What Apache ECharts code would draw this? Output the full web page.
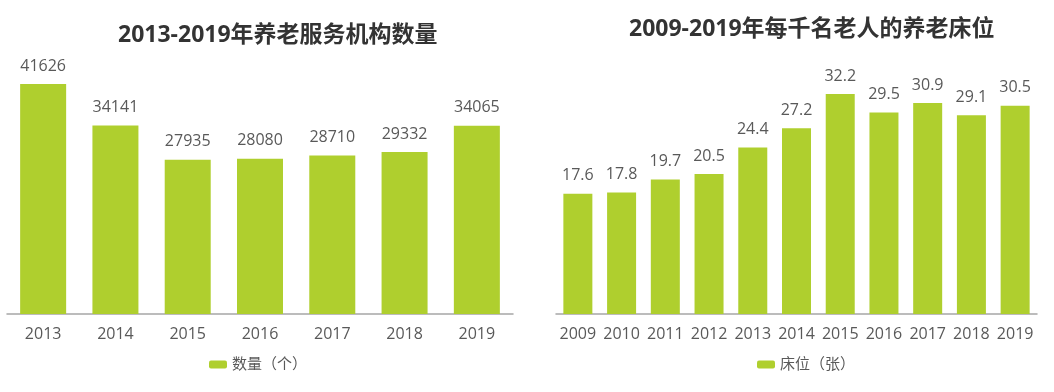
<!DOCTYPE html>
<html>
<head>
<meta charset="utf-8">
<script src="https://cdn.jsdelivr.net/npm/echarts@6/dist/echarts.min.js"></script>
<style>
html,body{margin:0;padding:0;background:#fff;}
#c{width:1054px;height:392px;}
</style>
</head>
<body>
<div id="c"></div>
<script>
const titleLeft = '2013-2019年养老服务机构数量';
const titleRight = '2009-2019年每千名老人的养老床位';
const yearsLeft = ['2013','2014','2015','2016','2017','2018','2019'];
const valuesLeft = [41626, 34141, 27935, 28080, 28710, 29332, 34065];
const seriesLeftName = '数量（个）';
const yearsRight = ['2009','2010','2011','2012','2013','2014','2015','2016','2017','2018','2019'];
const valuesRight = [17.6, 17.8, 19.7, 20.5, 24.4, 27.2, 32.2, 29.5, 30.9, 29.1, 30.5];
const seriesRightName = '床位（张）';

const GREEN = '#afcf2e';
const FONT = '"Open Sans", "Noto Sans CJK SC", sans-serif';
const LABEL = '#595959';

const chart = echarts.init(document.getElementById('c'));
chart.setOption({
  animation: false,
  textStyle: {fontFamily: FONT},
  title: [
    {text: titleLeft, left: 113, top: 19,
     textStyle: {fontSize: 23, fontWeight: 'bold', color: '#333', fontFamily: FONT}},
    {text: titleRight, left: 624, top: 13,
     textStyle: {fontSize: 23, fontWeight: 'bold', color: '#333', fontFamily: FONT}}
  ],
  legend: [
    {data: [seriesLeftName], left: 204, top: 352, itemWidth: 18, itemHeight: 8, itemGap: 8,
     textStyle: {fontSize: 15, color: LABEL, fontFamily: FONT}},
    {data: [seriesRightName], left: 752, top: 352, itemWidth: 18, itemHeight: 8, itemGap: 8,
     textStyle: {fontSize: 15, color: LABEL, fontFamily: FONT}}
  ],
  grid: [
    {left: 7, right: 541, top: 65.4, bottom: 78, containLabel: false},
    {left: 556, right: 17, top: 75, bottom: 78, containLabel: false}
  ],
  xAxis: [
    {type: 'category', gridIndex: 0, data: yearsLeft,
     axisLine: {lineStyle: {color: '#a6a6a6', width: 1.5}}, axisTick: {show: false},
     axisLabel: {fontSize: 16, color: LABEL, margin: 12, fontFamily: FONT}},
    {type: 'category', gridIndex: 1, data: yearsRight,
     axisLine: {lineStyle: {color: '#a6a6a6', width: 1.5}}, axisTick: {show: false},
     axisLabel: {fontSize: 16, color: LABEL, margin: 12, interval: 0, fontFamily: FONT}}
  ],
  yAxis: [
    {type: 'value', gridIndex: 0, min: 0, max: 45000, show: false, splitLine: {show: false}},
    {type: 'value', gridIndex: 1, min: 0, max: 35, show: false, splitLine: {show: false}}
  ],
  series: [
    {name: seriesLeftName, type: 'bar', xAxisIndex: 0, yAxisIndex: 0, data: valuesLeft,
     barWidth: 46, itemStyle: {color: GREEN},
     label: {show: true, position: 'top', distance: 10, fontSize: 16, color: LABEL, fontFamily: FONT}},
    {name: seriesRightName, type: 'bar', xAxisIndex: 1, yAxisIndex: 1, data: valuesRight,
     barWidth: 29, itemStyle: {color: GREEN},
     label: {show: true, position: 'top', distance: 10, fontSize: 16, color: LABEL, fontFamily: FONT,
             formatter: p => p.value.toFixed(1)}}
  ]
});
</script>
</body>
</html>
